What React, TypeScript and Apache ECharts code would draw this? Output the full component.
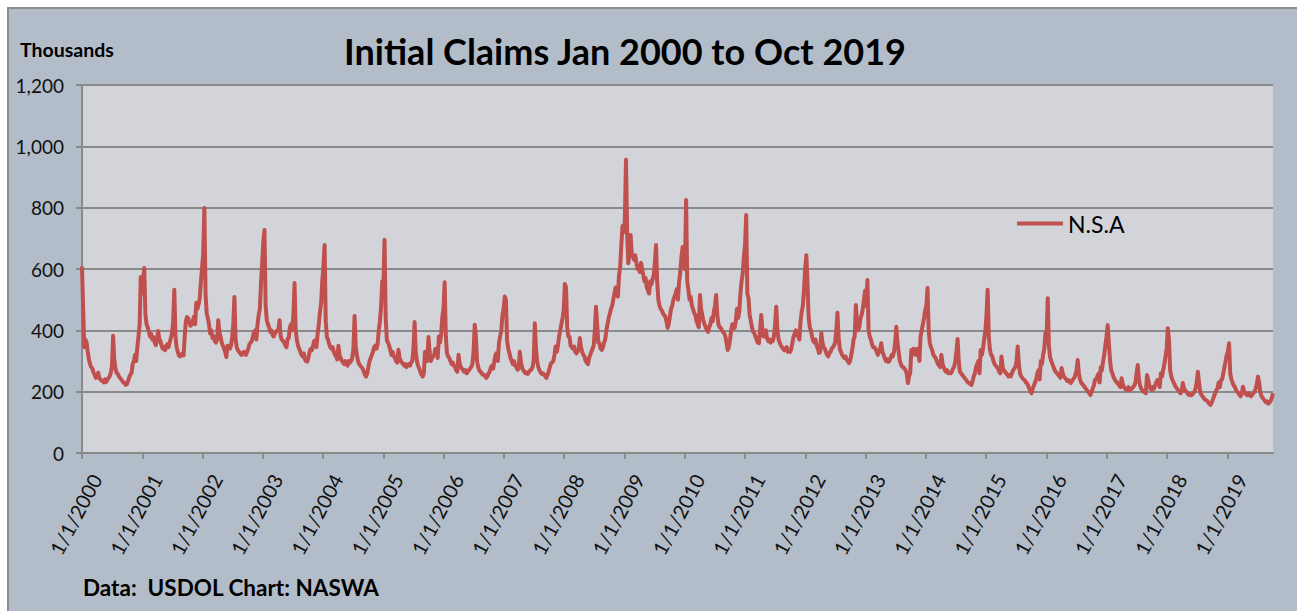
import React, { useEffect, useRef } from "react";
import * as echarts from "echarts";

// Weekly initial claims, not seasonally adjusted (thousands), one array per year,
// each value is the week ending on successive Saturdays of that year.
const y2000 = [608, 470, 345, 370, 360, 330, 305, 290, 280, 275, 262, 255, 245, 248, 262, 245, 240, 236, 235, 230, 240, 232, 238, 245, 250, 262, 285, 382, 305, 275, 262, 258, 250, 245, 240, 235, 230, 228, 222, 225, 235, 248, 255, 262, 290, 300, 320, 300, 345, 380, 420, 574, 520];
const y2001 = [560, 603, 450, 420, 410, 395, 380, 388, 370, 378, 360, 352, 365, 398, 372, 365, 350, 340, 345, 335, 350, 355, 345, 360, 375, 390, 430, 532, 380, 345, 330, 318, 315, 320, 325, 318, 380, 430, 443, 440, 425, 415, 420, 430, 445, 420, 490, 470, 485, 505, 560, 603];
const y2002 = [650, 799, 520, 455, 440, 420, 390, 400, 375, 380, 365, 360, 370, 433, 395, 380, 360, 350, 340, 330, 313, 350, 345, 340, 350, 375, 420, 509, 370, 345, 335, 330, 325, 320, 322, 330, 325, 320, 330, 340, 355, 360, 365, 380, 395, 400, 370, 420, 450, 470, 554, 620];
const y2003 = [690, 727, 480, 433, 420, 410, 395, 400, 385, 380, 390, 395, 400, 400, 433, 380, 370, 365, 360, 350, 345, 372, 375, 410, 420, 400, 450, 554, 400, 370, 350, 340, 330, 320, 315, 325, 305, 300, 298, 310, 330, 340, 335, 350, 365, 368, 345, 390, 420, 460, 489, 560];
const y2004 = [610, 678, 430, 378, 370, 355, 345, 340, 345, 330, 320, 315, 305, 350, 320, 310, 300, 295, 290, 300, 290, 285, 300, 295, 300, 310, 340, 447, 350, 320, 300, 290, 285, 280, 275, 265, 255, 249, 260, 280, 300, 310, 320, 330, 345, 350, 340, 355, 400, 430, 476, 560];
const y2005 = [540, 695, 440, 368, 360, 350, 335, 320, 330, 315, 310, 300, 295, 337, 310, 300, 295, 290, 285, 290, 280, 287, 290, 285, 295, 300, 340, 427, 330, 300, 285, 275, 265, 255, 249, 260, 330, 310, 300, 378, 330, 300, 310, 315, 320, 340, 330, 310, 380, 360, 390, 444, 470];
const y2006 = [557, 380, 326, 315, 310, 300, 290, 295, 285, 280, 270, 265, 320, 290, 280, 275, 270, 265, 270, 260, 265, 270, 275, 280, 290, 330, 418, 380, 300, 280, 270, 265, 260, 255, 255, 250, 245, 250, 260, 265, 280, 285, 275, 300, 320, 326, 300, 360, 380, 400, 450, 470];
const y2007 = [510, 500, 368, 340, 326, 310, 300, 290, 300, 285, 280, 272, 275, 330, 295, 280, 270, 265, 260, 262, 258, 265, 270, 272, 280, 300, 423, 340, 300, 280, 270, 262, 258, 260, 255, 250, 245, 255, 265, 280, 293, 295, 300, 320, 347, 330, 350, 380, 400, 420, 440, 466];
const y2008 = [551, 540, 412, 380, 379, 350, 345, 340, 347, 330, 325, 330, 340, 375, 345, 330, 320, 315, 300, 295, 290, 310, 320, 330, 340, 350, 400, 477, 420, 360, 358, 340, 336, 345, 360, 370, 400, 420, 440, 455, 470, 480, 500, 520, 540, 530, 510, 580, 608, 680, 740, 720];
const y2009 = [760, 956, 720, 619, 650, 711, 650, 640, 630, 645, 620, 600, 610, 590, 620, 600, 580, 560, 570, 540, 530, 520, 560, 550, 565, 580, 620, 678, 560, 500, 480, 470, 465, 455, 450, 445, 430, 408, 420, 445, 470, 480, 500, 510, 520, 535, 500, 560, 590, 640, 672, 660];
const y2010 = [600, 825, 560, 531, 500, 509, 480, 470, 457, 450, 430, 420, 410, 515, 470, 450, 430, 420, 410, 400, 395, 410, 420, 440, 430, 460, 480, 515, 450, 420, 410, 408, 400, 395, 390, 380, 360, 336, 345, 370, 400, 420, 410, 408, 430, 470, 440, 460, 520, 560, 586, 640];
const y2011 = [680, 776, 520, 505, 450, 430, 410, 395, 390, 380, 370, 360, 358, 400, 450, 400, 380, 380, 400, 375, 365, 370, 360, 370, 365, 380, 420, 477, 400, 370, 360, 350, 345, 340, 335, 340, 345, 330, 335, 330, 340, 360, 380, 390, 400, 385, 380, 370, 430, 460, 480, 531, 600];
const y2012 = [645, 560, 444, 410, 400, 380, 365, 360, 370, 350, 340, 326, 330, 391, 360, 345, 340, 330, 320, 315, 325, 330, 340, 345, 350, 360, 400, 457, 380, 340, 330, 320, 315, 310, 315, 305, 300, 293, 300, 320, 340, 370, 380, 483, 420, 400, 410, 440, 450, 470, 500, 530];
const y2013 = [480, 564, 400, 380, 370, 355, 345, 345, 340, 330, 320, 330, 340, 358, 330, 320, 310, 300, 305, 297, 300, 310, 320, 315, 330, 360, 412, 360, 330, 300, 290, 281, 280, 275, 270, 260, 228, 250, 260, 336, 320, 340, 330, 320, 340, 330, 300, 380, 400, 420, 440, 466];
const y2014 = [480, 538, 400, 358, 345, 336, 320, 315, 310, 300, 290, 285, 280, 320, 290, 280, 270, 265, 270, 260, 262, 260, 265, 275, 280, 300, 330, 372, 300, 265, 260, 255, 250, 245, 240, 235, 230, 228, 225, 222, 235, 250, 260, 281, 290, 300, 260, 336, 320, 340, 370, 396];
const y2015 = [450, 532, 380, 336, 320, 315, 300, 290, 285, 280, 275, 265, 260, 315, 280, 270, 265, 260, 255, 250, 255, 250, 260, 270, 275, 280, 300, 347, 290, 260, 250, 245, 240, 238, 230, 228, 220, 210, 200, 195, 210, 220, 230, 240, 260, 270, 240, 300, 290, 320, 340, 391];
const y2016 = [380, 505, 350, 314, 300, 290, 281, 270, 265, 260, 255, 250, 245, 277, 260, 250, 245, 240, 235, 238, 232, 228, 235, 240, 245, 255, 270, 303, 260, 240, 230, 225, 220, 215, 210, 205, 200, 195, 189, 200, 210, 220, 238, 240, 250, 258, 230, 280, 270, 300, 320, 352, 380];
const y2017 = [417, 360, 303, 270, 260, 248, 240, 235, 230, 225, 220, 215, 244, 225, 215, 210, 205, 210, 215, 205, 208, 210, 215, 220, 230, 260, 287, 240, 220, 210, 205, 200, 198, 195, 254, 240, 220, 210, 205, 215, 210, 220, 230, 238, 230, 215, 260, 250, 270, 290, 314, 340];
const y2018 = [407, 370, 271, 250, 238, 230, 222, 215, 210, 205, 200, 195, 200, 228, 210, 205, 200, 195, 190, 192, 188, 190, 195, 200, 210, 230, 265, 230, 200, 190, 185, 180, 175, 172, 170, 165, 160, 157, 165, 175, 185, 195, 205, 210, 230, 215, 238, 240, 260, 280, 300, 320];
const y2019 = [330, 358, 260, 240, 230, 220, 215, 205, 200, 195, 190, 185, 195, 216, 200, 195, 190, 188, 195, 190, 185, 190, 195, 200, 210, 225, 249, 230, 200, 185, 180, 175, 170, 165, 168, 161, 165, 170, 180, 195];

const weeklyByYear = [y2000, y2001, y2002, y2003, y2004, y2005, y2006, y2007, y2008, y2009, y2010, y2011, y2012, y2013, y2014, y2015, y2016, y2017, y2018, y2019];
const tickYears = [2000, 2001, 2002, 2003, 2004, 2005, 2006, 2007, 2008, 2009, 2010, 2011, 2012, 2013, 2014, 2015, 2016, 2017, 2018, 2019];
const yTicks = [0, 200, 400, 600, 800, 1000, 1200];

const seriesName = "N.S.A";
const titleText = "Initial Claims Jan 2000 to Oct 2019";
const unitText = "Thousands";
const sourceText = "Data:  USDOL Chart: NASWA";

const FONT = "Lato";

function buildPoints(): [number, number][] {
  const pts: [number, number][] = [];
  weeklyByYear.forEach((vals, i) => {
    const year = tickYears[0] + i;
    const start = Date.UTC(year, 0, 1);
    const dow = new Date(start).getUTCDay();
    const offset = (6 - dow + 7) % 7; // first Saturday
    const daysInYear = (Date.UTC(year + 1, 0, 1) - start) / 86400000;
    vals.forEach((v, k) => {
      const day = offset + 7 * k;
      pts.push([year + day / daysInYear, v]);
    });
  });
  return pts;
}

export default function App() {
  const ref = useRef<HTMLDivElement>(null);
  useEffect(() => {
    if (!ref.current) return;
    const chart = echarts.init(ref.current, null, { renderer: "svg" });
    const points = buildPoints();
    const xMax = points[points.length - 1][0];
    const gridColor = "#8a8a8a";
    chart.setOption({
      animation: false,
      backgroundColor: "#b3bdca",
      textStyle: { fontFamily: FONT },
      graphic: [
        { type: "rect", shape: { x: 0, y: 0, width: 1297, height: 7 }, style: { fill: "#ffffff" }, silent: true },
        { type: "rect", shape: { x: 0, y: 0, width: 7, height: 611 }, style: { fill: "#ffffff" }, silent: true },
        { type: "line", shape: { x1: 7, y1: 8, x2: 1297, y2: 8 }, style: { stroke: "#8c8c8c", lineWidth: 2 }, silent: true },
        { type: "line", shape: { x1: 8, y1: 7, x2: 8, y2: 611 }, style: { stroke: "#8c8c8c", lineWidth: 2 }, silent: true },
        {
          type: "text", x: 625, y: 51,
          style: { text: titleText, fill: "#000", fontSize: 36, fontWeight: "bold", fontFamily: FONT, align: "center", verticalAlign: "middle" },
        },
        {
          type: "text", x: 20, y: 49,
          style: { text: unitText, fill: "#000", fontSize: 19.5, fontWeight: "bold", fontFamily: FONT, align: "left", verticalAlign: "middle" },
        },
        {
          type: "text", x: 83, y: 587,
          style: { text: sourceText, fill: "#000", fontSize: 22.5, fontWeight: "bold", fontFamily: FONT, align: "left", verticalAlign: "middle" },
        },
      ],
      legend: {
        show: true,
        data: [seriesName],
        left: 1017,
        top: 212,
        padding: 0,
        icon: "rect",
        itemWidth: 46,
        itemHeight: 4,
        textStyle: { fontSize: 23, fontFamily: FONT, color: "#000" },
      },
      grid: {
        left: 82, top: 85, right: 24, bottom: 158,
        show: true, backgroundColor: "#d2d4d9", borderWidth: 0,
        containLabel: false,
      },
      xAxis: {
        type: "value",
        min: tickYears[0],
        max: xMax,
        interval: 1,
        axisLine: { show: true, lineStyle: { color: gridColor, width: 2 } },
        axisTick: { show: true, length: 6, lineStyle: { color: gridColor, width: 2 }, customValues: tickYears },
        splitLine: { show: false },
        axisLabel: {
          customValues: tickYears,
          rotate: 62,
          margin: 15,
          verticalAlign: "top",
          padding: [6, 0, 0, 0],
          fontSize: 20,
          fontFamily: FONT,
          color: "#111",
          formatter: (v: number) => `1/1/${Math.round(v)}`,
        },
      },
      yAxis: {
        type: "value",
        min: yTicks[0],
        max: yTicks[yTicks.length - 1],
        interval: 200,
        axisLine: { show: true, lineStyle: { color: gridColor, width: 2 } },
        axisTick: { show: true, length: 6, lineStyle: { color: gridColor, width: 2 } },
        splitLine: { show: true, lineStyle: { color: gridColor, width: 2 } },
        axisLabel: {
          margin: 18,
          fontSize: 19,
          fontFamily: FONT,
          color: "#111",
          formatter: (v: number) => v.toLocaleString("en-US"),
        },
      },
      series: [
        {
          name: seriesName,
          type: "line",
          data: points,
          showSymbol: false,
          symbol: "none",
          lineStyle: { color: "#c0504d", width: 4, join: "round" },
          itemStyle: { color: "#c0504d" },
          z: 3,
        },
      ],
    });
    return () => chart.dispose();
  }, []);
  return (
    <div
      ref={ref}
      style={{ position: "absolute", left: 0, top: 0, width: 1297, height: 611 }}
    />
  );
}
